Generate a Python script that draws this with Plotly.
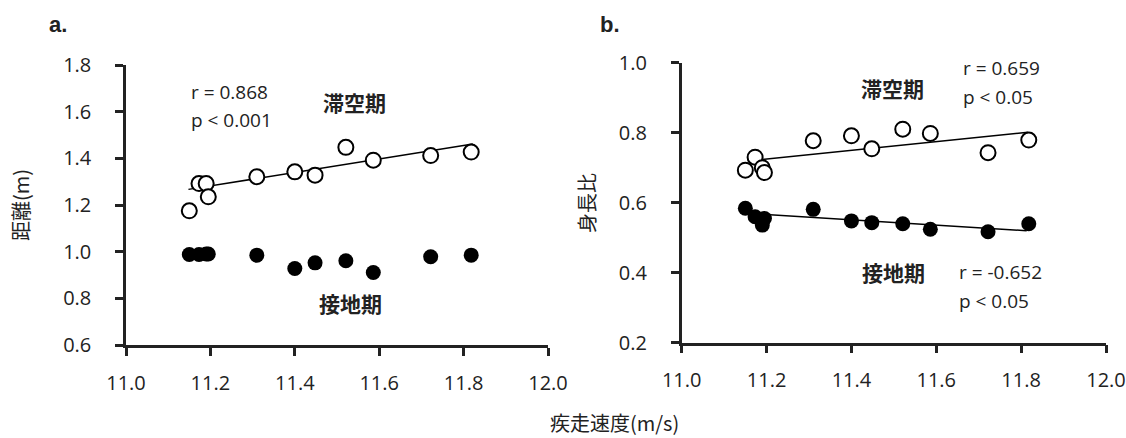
import plotly.graph_objects as go

# ---- data ----
speed = [11.15, 11.173, 11.19, 11.195, 11.31, 11.40, 11.448, 11.521, 11.586, 11.722, 11.818]

dist_flight = [1.175, 1.292, 1.292, 1.235, 1.321, 1.342, 1.328, 1.447, 1.392, 1.412, 1.427]
dist_contact = [0.988, 0.988, 0.99, 0.99, 0.985, 0.928, 0.952, 0.961, 0.911, 0.978, 0.985]

ratio_flight = [0.693, 0.730, 0.700, 0.686, 0.777, 0.791, 0.754, 0.810, 0.798, 0.743, 0.779]
ratio_contact = [0.584, 0.560, 0.536, 0.555, 0.581, 0.548, 0.543, 0.540, 0.524, 0.517, 0.540]

trend_a_x = [11.148, 11.822]
trend_a_y = [1.267, 1.461]
trend_b_flight_x = [11.188, 11.816]
trend_b_flight_y = [0.723, 0.801]
trend_b_contact_x = [11.188, 11.813]
trend_b_contact_y = [0.567, 0.520]

x_ticks = [11.0, 11.2, 11.4, 11.6, 11.8, 12.0]
ya_ticks = [0.6, 0.8, 1.0, 1.2, 1.4, 1.6, 1.8]
yb_ticks = [0.2, 0.4, 0.6, 0.8, 1.0]

# ---- layout helpers ----
W, H = 1126, 438
def px(x):
    return x / W
def py(y):
    return 1 - y / H

TICKFONT = dict(family="Open Sans", size=20, color="#222")
CJK = "Noto Sans CJK JP"

fig = go.Figure()

open_marker = dict(symbol="circle", size=15, color="white", line=dict(color="black", width=2))
fill_marker = dict(symbol="circle", size=15, color="black", line=dict(color="black", width=0))
trend_line = dict(color="black", width=1.5)

# panel a
fig.add_trace(go.Scatter(x=trend_a_x, y=trend_a_y, mode="lines", line=trend_line, xaxis="x", yaxis="y"))
fig.add_trace(go.Scatter(x=speed, y=dist_flight, mode="markers", marker=open_marker, xaxis="x", yaxis="y"))
fig.add_trace(go.Scatter(x=speed, y=dist_contact, mode="markers", marker=fill_marker, xaxis="x", yaxis="y"))

# panel b
fig.add_trace(go.Scatter(x=trend_b_flight_x, y=trend_b_flight_y, mode="lines", line=trend_line, xaxis="x2", yaxis="y2"))
fig.add_trace(go.Scatter(x=trend_b_contact_x, y=trend_b_contact_y, mode="lines", line=trend_line, xaxis="x2", yaxis="y2"))
fig.add_trace(go.Scatter(x=speed, y=ratio_flight, mode="markers", marker=open_marker, xaxis="x2", yaxis="y2"))
fig.add_trace(go.Scatter(x=speed, y=ratio_contact, mode="markers", marker=fill_marker, xaxis="x2", yaxis="y2"))

axis_common = dict(
    showline=True, linewidth=2.5, linecolor="#222", mirror=False,
    ticks="outside", ticklen=8, tickwidth=2.5, tickcolor="#222",
    showgrid=False, zeroline=False, tickfont=TICKFONT, tickformat=".1f",
    automargin=False,
)

fig.update_layout(
    template="none",
    width=W, height=H,
    margin=dict(l=0, r=0, t=0, b=0, pad=0),
    paper_bgcolor="white", plot_bgcolor="white",
    showlegend=False,
    xaxis=dict(domain=[px(126), px(548)], range=[11.0, 12.0], tickvals=x_ticks,
               anchor="y", ticklabelstandoff=10, **axis_common),
    yaxis=dict(domain=[py(345), py(65)], range=[0.6, 1.8], tickvals=ya_ticks,
               anchor="x", ticklabelstandoff=20, **axis_common),
    xaxis2=dict(domain=[px(681.7), px(1106)], range=[11.0, 12.0], tickvals=x_ticks,
                anchor="y2", ticklabelstandoff=10, **axis_common),
    yaxis2=dict(domain=[py(342.7), py(62.7)], range=[0.2, 1.0], tickvals=yb_ticks,
                anchor="x2", ticklabelstandoff=20, **axis_common),
)

def ann(text, x, y, size, family, xanchor="center", bold=False, angle=0):
    if bold:
        text = "<b>" + text + "</b>"
    fig.add_annotation(text=text, x=px(x), y=py(y), xref="paper", yref="paper",
                       xanchor=xanchor, yanchor="middle", showarrow=False,
                       textangle=angle,
                       font=dict(family=family, size=size, color="#222"))

# panel labels
ann("a.", 58, 25, 22, "Liberation Sans", bold=True)
ann("b.", 610, 25, 22, "Liberation Sans", bold=True)

# axis titles
ann("距離(m)", 21, 205, 20, CJK, angle=-90)
ann("身長比", 586, 203, 20, CJK, angle=-90)
ann("疾走速度(m/s)", 614, 422, 20, CJK)

# panel a texts
ann("r = 0.868", 189, 92, 19, "Open Sans", xanchor="left")
ann("p < 0.001", 189, 120, 19, "Open Sans", xanchor="left")
ann("滞空期", 355, 102, 21, CJK, bold=True)
ann("接地期", 350, 303, 21, CJK, bold=True)

# panel b texts
ann("r = 0.659", 960.7, 68, 19, "Open Sans", xanchor="left")
ann("p < 0.05", 960.7, 97, 19, "Open Sans", xanchor="left")
ann("滞空期", 892, 88, 21, CJK, bold=True)
ann("接地期", 893, 272, 21, CJK, bold=True)
ann("r = -0.652", 956.7, 272, 19, "Open Sans", xanchor="left")
ann("p < 0.05", 956.7, 301, 19, "Open Sans", xanchor="left")

fig.write_html("out.html")
